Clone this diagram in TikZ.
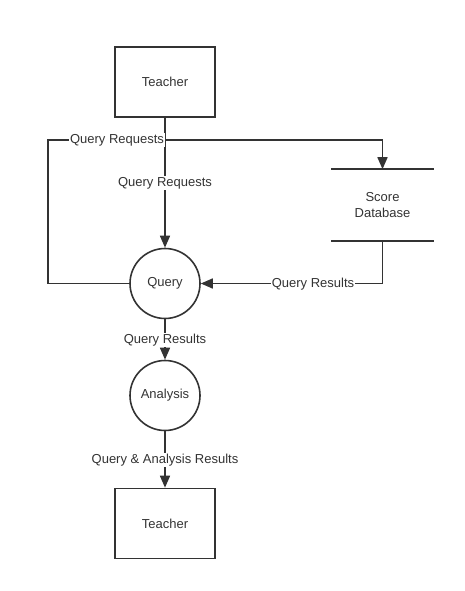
\documentclass[tikz,border=0pt]{standalone}
\usepackage{fontspec}
\setmainfont{Liberation Sans}
\usetikzlibrary{arrows.meta}
\definecolor{ink}{HTML}{333333}
\begin{document}
\begin{tikzpicture}[x=1pt,y=-1pt,
  line width=1.6pt, draw=ink,
  font=\fontsize{13}{15.5}\selectfont, text=ink,
  entity/.style={draw=ink, minimum width=100pt, minimum height=70pt, inner sep=0pt},
  proc/.style={draw=ink, circle, minimum size=70pt, inner sep=0pt},
  lbl/.style={fill=white, inner sep=1pt, text=ink},
  flow/.style={draw=ink, -{Triangle[length=12pt,width=10pt]}},
]
\useasboundingbox (0,0) rectangle (465,591);
\node[entity] (t1) at (165,82) {Teacher};
\node[proc] (q) at (165,283.5) {Query};
\node[proc] (a) at (165,395.5) {Analysis};
\node[entity] (t2) at (165,523.5) {Teacher};
\node[minimum width=101pt, minimum height=70pt, inner sep=0pt, align=center] (db) at (382.5,205) {Score\\Database};
\draw (db.north west) -- (db.north east);
\draw (db.south west) -- (db.south east);
\coordinate (j) at (165,140);
\coordinate (l1) at (48,140);
\coordinate (l2) at (48,283.5);
\coordinate (r1) at (382.5,140);
\coordinate (r2) at (382.5,283.5);
% left loop
\draw (j) -- (l1) -- (l2) -- (q.west);
% to database
\draw[flow] (j) -- (r1) -- (db.north);
% teacher to query
\draw[flow] (t1.south) -- (q.north);
% db to query
\draw[flow] (db.south) -- (r2) -- (q.east);
\draw[flow] (q.south) -- (a.north);
\draw[flow] (a.south) -- (t2.north);
% labels
\node[lbl] at (117,140) {Query Requests};
\node[lbl] at (165,183) {Query Requests};
\node[lbl] at (313,284) {Query Results};
\node[lbl] at (165,340) {Query Results};
\node[lbl] at (165,460) {Query \& Analysis Results};
\end{tikzpicture}
\end{document}
